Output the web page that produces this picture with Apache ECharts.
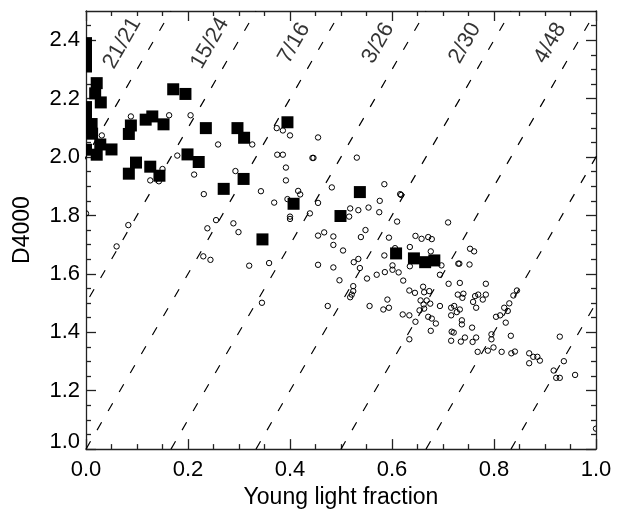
<!DOCTYPE html>
<html>
<head>
<meta charset="utf-8">
<script src="https://cdn.jsdelivr.net/npm/echarts@6/dist/echarts.min.js"></script>
<style>
html,body{margin:0;padding:0;background:#fff;}
#c{width:622px;height:514px;}
</style>
</head>
<body>
<div id="c"></div>
<script>
// ---- data ----
var squaresX = [0.0,0.0,0.0,0.0,0.0, 0.021,0.018,0.029, 0.0,0.0,0.0,0.011,0.012,0.0,
  0.028,0.021,0.050,
  0.088,0.084,0.117,0.130,0.152,0.171,0.195,0.235,0.297,0.310,0.395,0.199,0.221,
  0.098,0.084,0.126,0.144,0.270,0.309,0.407,0.346,0.537,0.499,0.608,0.643,0.665,0.683];
var squaresY = [2.39,2.35,2.31,2.37,2.33, 2.253,2.218,2.187, 2.171,2.137,2.10,2.113,2.08,2.025,
  2.043,2.008,2.026,
  2.108,2.079,2.128,2.139,2.112,2.232,2.216,2.099,2.099,2.066,2.119,2.009,1.983,
  1.981,1.943,1.967,1.936,1.891,1.925,1.840,1.718,1.880,1.798,1.670,1.653,1.640,1.646];

var circlesX = [0.031,0.088,0.163,0.205,0.259,0.179,0.212,0.126,0.143,0.150,0.293,0.231,0.326,0.343,
  0.374,0.386,0.400,0.375,0.386,0.392,0.392,0.369,0.416,0.420,0.400,0.400,0.439,0.455,0.444,0.446,
  0.455,0.455,0.467,0.083,0.060,0.0,0.238,0.255,0.289,0.299,0.230,0.244,0.320,0.359,0.345,0.455,
  0.395,0.482,0.485,0.485,0.485,0.531,0.585,0.616,0.618,0.576,0.518,0.534,0.554,0.516,0.575,0.610,
  0.710,0.548,0.539,0.504,0.594,0.646,0.658,0.671,0.678,0.635,0.676,0.585,0.606,0.534,0.525,0.537,
  0.570,0.586,0.601,0.613,0.601,0.635,0.694,0.697,0.730,0.732,0.752,0.753,0.761,
  0.497,0.551,0.622,0.634,0.645,0.661,0.663,0.673,0.656,0.668,0.662,0.675,0.654,0.663,0.671,0.678,
  0.686,0.676,0.646,0.621,0.634,0.634,0.583,0.594,0.591,0.556,0.474,0.524,0.524,0.521,0.518,0.694,
  0.711,0.733,0.729,0.740,0.738,0.716,0.722,0.716,0.727,0.733,0.737,0.737,0.717,0.721,0.716,0.735,
  0.743,0.757,0.758,0.765,0.763,0.769,0.759,0.765,0.778,0.784,0.784,0.768,0.788,0.799,0.795,0.795,
  0.804,0.812,0.815,0.820,0.823,0.827,0.830,0.833,0.834,0.841,0.838,0.845,0.869,0.869,0.877,0.885,
  0.890,0.917,0.922,0.929,0.937,0.929,0.959,1.0];
var circlesY = [2.074,2.139,2.143,2.143,2.043,2.005,1.940,1.920,1.917,1.959,1.952,1.873,2.043,1.883,
  2.099,2.091,2.074,2.008,2.008,1.964,1.920,1.844,1.884,1.872,1.796,1.788,1.807,2.067,1.997,1.997,
  1.843,1.731,1.742,1.767,1.694,1.807,1.756,1.784,1.773,1.743,1.660,1.648,1.628,1.637,1.501,1.631,
  1.856,1.896,1.728,1.699,1.622,1.998,1.907,1.873,1.870,1.850,1.824,1.818,1.827,1.796,1.811,1.779,
  1.776,1.750,1.726,1.680,1.724,1.730,1.720,1.726,1.719,1.692,1.677,1.663,1.688,1.651,1.640,1.620,
  1.597,1.606,1.614,1.605,1.629,1.626,1.597,1.629,1.635,1.635,1.632,1.686,1.677,
  1.578,1.584,1.577,1.543,1.535,1.556,1.537,1.541,1.509,1.509,1.495,1.498,1.475,1.481,1.453,1.447,
  1.430,1.405,1.436,1.461,1.458,1.376,1.478,1.484,1.512,1.490,1.490,1.558,1.541,1.529,1.520,1.490,
  1.566,1.569,1.529,1.532,1.518,1.484,1.490,1.458,1.469,1.478,1.441,1.427,1.402,1.399,1.371,1.368,
  1.382,1.416,1.367,1.382,1.524,1.529,1.504,1.484,1.512,1.566,1.529,1.333,1.337,1.348,1.376,1.393,
  1.453,1.458,1.333,1.484,1.433,1.473,1.499,1.388,1.328,1.334,1.526,1.543,1.328,1.294,1.316,1.316,
  1.303,1.269,1.244,1.244,1.301,1.385,1.254,1.070];

// dashed guide lines: D4000 = 1 + slope * (x - offset)
var guideSlope = 3;
var guideOffsets = [-1/3, -1/6, 0, 1/6, 1/3, 1/2, 2/3, 5/6];

// strip labels
var stripLabels = ['21/21','15/24','7/16','3/26','2/30','4/48'];
var stripLabelX = [0.071,0.243,0.408,0.573,0.743,0.910];
var stripLabelY = [2.39,2.39,2.39,2.39,2.39,2.39];

// axis ticks
var xMin = 0, xMax = 1, xStep = 0.2;
var yMin = 1.0, yMax = 2.5;
var yMajorTicks = [1.0,1.2,1.4,1.6,1.8,2.0,2.2,2.4];
var yMinorTicks = [1.05,1.1,1.15,1.25,1.3,1.35,1.45,1.5,1.55,1.65,1.7,1.75,1.85,1.9,1.95,
  2.05,2.1,2.15,2.25,2.3,2.35,2.45];

// ---- chart ----
var FONT = '"Liberation Sans", Arial, Helvetica, sans-serif';
var AX = {color:'#222', width:1.3};
var chart = echarts.init(document.getElementById('c'), null, {renderer:'canvas'});

function zip(a,b){ var r=[]; for (var i=0;i<a.length;i++) r.push([a[i],b[i]]); return r; }

var series = [];
guideOffsets.forEach(function(c){
  var dy = yMax - yMin;
  series.push({
    type:'line', xAxisIndex:0, yAxisIndex:0, silent:true, animation:false, clip:true,
    symbol:'none', z:1,
    lineStyle:{color:'#000', width:1.2, type:[9,13]},
    data:[[c, yMin],[c + dy/guideSlope, yMax]]
  });
});
series.push({
  type:'custom', xAxisIndex:0, yAxisIndex:0, clip:true, silent:true, animation:false, z:2,
  data: zip(circlesX, circlesY),
  renderItem:function(params, api){
    var p = api.coord([api.value(0), api.value(1)]);
    return {type:'circle', shape:{cx:p[0], cy:p[1], r:2.7},
      style:{fill:null, stroke:'#000', lineWidth:1}};
  }
});
series.push({
  type:'custom', xAxisIndex:0, yAxisIndex:0, clip:true, silent:true, animation:false, z:3,
  data: zip(squaresX, squaresY),
  renderItem:function(params, api){
    var p = api.coord([api.value(0), api.value(1)]);
    return {type:'rect', shape:{x:p[0]-6, y:p[1]-6, width:12, height:12},
      style:{fill:'#000'}};
  }
});
series.push({
  type:'scatter', xAxisIndex:0, yAxisIndex:0, silent:true, animation:false, z:4,
  symbolSize:0,
  data: stripLabels.map(function(t,i){ return {name:t, value:[stripLabelX[i], stripLabelY[i]]}; }),
  label:{show:true, position:'inside', formatter:'{b}', rotate:60,
    fontSize:22, fontFamily:FONT, color:'#000', align:'center', verticalAlign:'middle'}
});

var xBase = {
  type:'value', min:xMin, max:xMax, interval:xStep,
  axisLine:{show:true, onZero:false, lineStyle:AX},
  axisTick:{show:true, inside:true, length:10, lineStyle:AX},
  minorTick:{show:true, splitNumber:4, length:5, lineStyle:AX},
  splitLine:{show:false}, minorSplitLine:{show:false}
};
function yAxisDef(pos, ticks, len, showLine, showLabel){
  return {
    type:'value', min:yMin, max:yMax, position:pos,
    axisLine:{show:showLine, onZero:false, lineStyle:AX},
    axisTick:{show:true, inside:true, length:len, lineStyle:AX, customValues:ticks},
    axisLabel: showLabel ? {
      show:true, customValues:ticks, fontSize:22, fontFamily:FONT, color:'#000', margin:6,
      formatter:function(v){ return Math.abs(v-1)<1e-9 ? '{b|1.0}' : v.toFixed(1); },
      rich:{b:{fontSize:22, fontFamily:FONT, color:'#000', padding:[0,0,14,0]}}
    } : {show:false},
    splitLine:{show:false}
  };
}

var yMain = yAxisDef('left', yMajorTicks, 10, true, true);
yMain.name = 'D4000';
yMain.nameLocation = 'middle';
yMain.nameGap = 52;
yMain.nameTextStyle = {fontSize:23, fontFamily:FONT, color:'#000'};

var option = {
  backgroundColor:'#fff',
  animation:false,
  grid:{left:86, right:26, top:11, bottom:62, containLabel:false},
  xAxis:[
    Object.assign({}, xBase, {position:'bottom',
      axisLabel:{show:true, fontSize:22, fontFamily:FONT, color:'#000', margin:10,
        formatter:function(v){ return v.toFixed(1); }},
      name:'Young light fraction', nameLocation:'middle', nameGap:36,
      nameTextStyle:{fontSize:23, fontFamily:FONT, color:'#000'}}),
    Object.assign({}, xBase, {position:'top', axisLabel:{show:false}})
  ],
  yAxis:[
    yMain,
    yAxisDef('left', yMinorTicks, 5, false, false),
    yAxisDef('right', yMajorTicks, 10, true, false),
    yAxisDef('right', yMinorTicks, 5, false, false)
  ],
  series:series
};
chart.setOption(option);
</script>
</body>
</html>
